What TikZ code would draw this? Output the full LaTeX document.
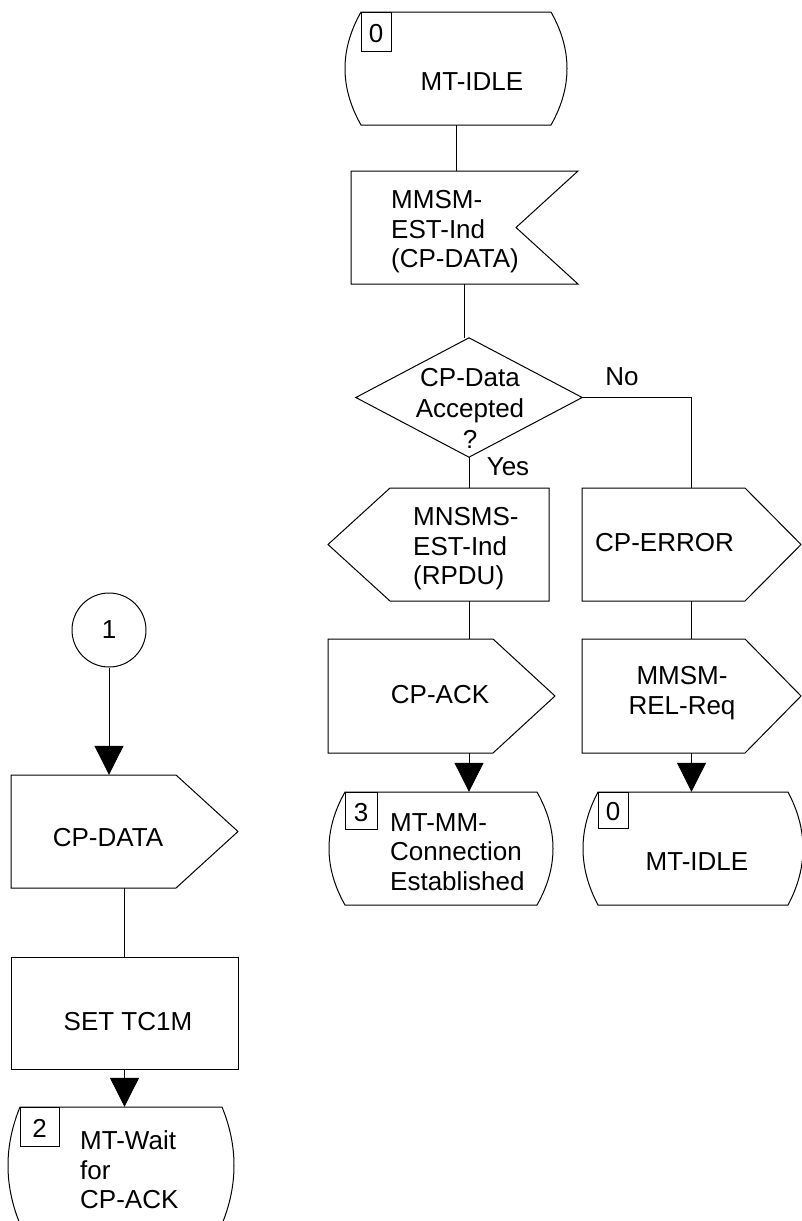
\documentclass[tikz,border=0pt]{standalone}
\usepackage{fontspec}
\setmainfont{Liberation Sans}
\usetikzlibrary{arrows.meta,fit,calc}
\newcommand\sdlstate[9]{%
  \node[frame, fit={(#2,#3) (#4,#5)}] (#1) {};
  \pgfmathsetmacro\stH{(#5-#3)/3}%
  \draw[shp] (#2+#6,#3) -- (#4-#6,#3) .. controls (#4+#6/3,#3+\stH) and (#4+#6/3,#5-\stH) .. (#4-#6,#5) -- (#2+#6,#5) .. controls (#2-#6/3,#5-\stH) and (#2-#6/3,#3+\stH) .. cycle;
  \draw[shp] (#2+#6,#3) rectangle (#7,#8);
  \node[clbl] (#1-num) at ({(#2+#6+#7)/2},{(#3+#8)/2+2}) {#9};
}
\begin{document}
\begin{tikzpicture}[x=1pt,y=-1pt,
  lbl/.style={font=\fontsize{26}{29.5}\selectfont, inner sep=0pt, align=left},
  clbl/.style={font=\fontsize{26}{29.5}\selectfont, inner sep=0pt, align=center},
  frame/.style={inner sep=0pt, draw=none},
  shp/.style={draw, line width=1pt},
  flow/.style={draw, line width=1pt},
  arr/.style={flow, -{Triangle[width=29pt,length=29pt]}}]
\useasboundingbox (0,0) rectangle (801,1221);

% top state
\sdlstate{st0}{345}{12}{567}{125}{16}{391}{51}{0}
\node[clbl] (st0t) at (472,82) {MT-IDLE};

% input MMSM-EST-Ind
\node[frame, fit={(351,171) (578,284)}] (in1) {};
\draw[shp] (351,171) -- (578,171) -- (516,227.5) -- (578,284) -- (351,284) -- cycle;
\node[lbl, anchor=west] (in1t) at (391,232) {MMSM-\\EST-Ind\\(CP-DATA)};

% decision
\node[frame, fit={(356,338) (582,457)}] (dec) {};
\draw[shp] (dec.north) -- (dec.east) -- (dec.south) -- (dec.west) -- cycle;
\node[clbl, font=\fontsize{26}{31}\selectfont] (dect) at (470,408) {CP-Data\\Accepted\\?};
\node[lbl] (no) at (622,377) {No};
\node[lbl] (yes) at (508,467) {Yes};

% input MNSMS-EST-Ind
\node[frame, fit={(328,488) (549,601)}] (in2) {};
\draw[shp] (390,488) -- (549,488) -- (549,601) -- (390,601) -- (328,544.5) -- cycle;
\node[lbl, anchor=west] (in2t) at (413,549) {MNSMS-\\EST-Ind\\(RPDU)};

% output CP-ERROR
\node[frame, fit={(582,488) (801,601)}] (out1) {};
\draw[shp] (582,488) -- (745,488) -- (801,544.5) -- (745,601) -- (582,601) -- cycle;
\node[lbl, anchor=west] (out1t) at (595,543) {CP-ERROR};

% output CP-ACK
\node[frame, fit={(328,639) (555,753)}] (out2) {};
\draw[shp] (328,639) -- (493,639) -- (555,696) -- (493,753) -- (328,753) -- cycle;
\node[clbl] (out2t) at (440,695) {CP-ACK};

% output MMSM-REL-Req
\node[frame, fit={(582,639) (801,753)}] (out3) {};
\draw[shp] (582,639) -- (745,639) -- (801,696) -- (745,753) -- (582,753) -- cycle;
\node[clbl] (out3t) at (682,693) {MMSM-\\REL-Req};

% bottom states
\sdlstate{st3}{329}{792}{553}{905}{16}{377}{829}{3}
\node[lbl, anchor=west] (st3t) at (390,852) {MT-MM-\\Connection\\Established};
\sdlstate{st0b}{583}{792}{803}{905}{15}{628}{828}{0}
\node[clbl] (st0bt) at (697,862) {MT-IDLE};

% left column
\node[draw, circle, minimum size=74pt, inner sep=0pt, line width=1pt, font=\fontsize{26}{29.5}\selectfont] (con1) at (109,630) {1};

\node[frame, fit={(11,775) (238,888)}] (out4) {};
\draw[shp] (11,775) -- (176,775) -- (238,831.5) -- (176,888) -- (11,888) -- cycle;
\node[clbl] (out4t) at (108,838) {CP-DATA};

\node[frame, draw, line width=1pt, fit={(11,957) (238,1069)}] (task) {};
\node[clbl] (taskt) at (128,1022) {SET TC1M};

\sdlstate{st2}{8}{1107}{234}{1224}{12}{59}{1146}{2}
\node[lbl, anchor=west] (st2t) at (80,1170) {MT-Wait\\for\\CP-ACK};

% connectors
\draw[flow] (st0.south) -- (st0.south |- in1.north);
\draw[flow] (in1.south) -- (in1.south |- dec.north);
\draw[flow] (dec.south) -- (dec.south |- in2.north);
\draw[flow] (dec.east) -| (out1.north);
\draw[flow] (dec.south |- in2.south) -- (dec.south |- out2.north);
\draw[flow] (out1.south) -- (out1.south |- out3.north);
\draw[arr] (dec.south |- out2.south) -- (dec.south |- st3.north);
\draw[arr] (out3.south) -- (out3.south |- st0b.north);
\draw[arr] (con1.south) -- (con1.south |- out4.north);
\draw[flow] (out4.south) -- (out4.south |- task.north);
\draw[arr] (task.south) -- (task.south |- st2.north);
\end{tikzpicture}
\end{document}
